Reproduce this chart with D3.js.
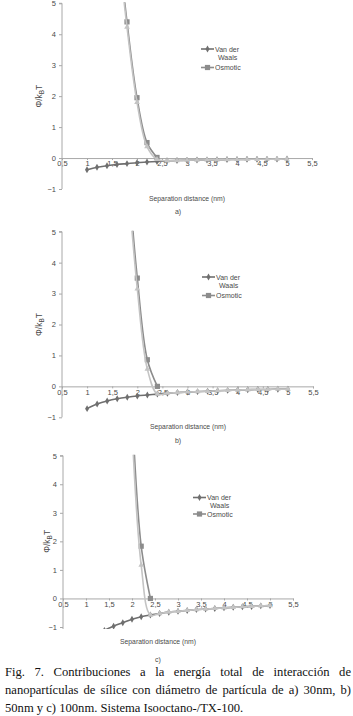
<!DOCTYPE html>
<html><head><meta charset="utf-8">
<script src="https://cdn.jsdelivr.net/npm/d3@7/dist/d3.min.js"></script>
<style>
html,body{margin:0;padding:0;background:#fff;width:353px;height:716px;overflow:hidden;}
#chart{position:absolute;left:0;top:0;}
.cap{position:absolute;left:5px;width:346px;font-family:"Liberation Serif","Times New Roman",serif;font-size:12.6px;color:#111;white-space:nowrap;text-align:justify;text-align-last:justify;line-height:18px;}
.cap.last{text-align:left;text-align-last:left;}
</style></head>
<body>
<svg id="chart" width="353" height="716"></svg>
<div class="cap" style="top:663px">Fig. 7. Contribuciones a la energía total de interacción de</div>
<div class="cap" style="top:681px">nanopartículas de sílice con diámetro de partícula de a) 30nm, b)</div>
<div class="cap last" style="top:699px">50nm y c) 100nm. Sistema Isooctano-/TX-100.</div>
<script>
// ---------- DATA ----------
const xTicks = [0.5,1,1.5,2,2.5,3,3.5,4,4.5,5,5.5];
const yTicks = [5,4,3,2,1,0,-1];
const seriesNames = ["Van der Waals","Osmotic"];
const panelLabels = ["a)","b)","c)"];

// separation distances (nm)
const dVdw = [1.0,1.2,1.4,1.6,1.8,2.0,2.2,2.4,2.6,2.8,3.0,3.2,3.4,3.6,3.8,4.0,4.2,4.4,4.6,4.8,5.0];

// panel a) 30 nm
const vdwA = [-0.38,-0.30,-0.25,-0.21,-0.18,-0.15,-0.13,-0.11,-0.09,-0.08,-0.07,-0.065,-0.06,-0.055,-0.05,-0.045,-0.042,-0.04,-0.037,-0.035,-0.033];
const dOsmA = [1.6,1.8,2.0,2.2,2.4];
const osmA = [7.4,4.4,1.95,0.5,0.02];
const dTotA = [1.6,1.8,2.0,2.2,2.4,2.6,2.8,3.0,3.2,3.4,3.6,3.8,4.0,4.2,4.4,4.6,4.8,5.0];
const totA = [7.2,4.23,1.8,0.37,-0.04,-0.09,-0.08,-0.07,-0.065,-0.06,-0.055,-0.05,-0.045,-0.042,-0.04,-0.037,-0.035,-0.033];

// panel b) 50 nm
const vdwB = [-0.72,-0.57,-0.47,-0.40,-0.35,-0.31,-0.28,-0.25,-0.22,-0.20,-0.18,-0.17,-0.16,-0.14,-0.13,-0.12,-0.11,-0.10,-0.10,-0.09,-0.09];
const dOsmB = [1.8,2.0,2.2,2.4];
const osmB = [7.3,3.5,0.86,0.0];
const dTotB = [1.8,2.0,2.2,2.4,2.6,2.8,3.0,3.2,3.4,3.6,3.8,4.0,4.2,4.4,4.6,4.8,5.0];
const totB = [6.95,3.15,0.56,-0.25,-0.22,-0.20,-0.18,-0.17,-0.16,-0.14,-0.13,-0.12,-0.11,-0.10,-0.10,-0.09,-0.09];

// panel c) 100 nm
const vdwC = [-1.8,-1.4,-1.12,-0.97,-0.85,-0.73,-0.64,-0.58,-0.53,-0.48,-0.45,-0.42,-0.39,-0.37,-0.35,-0.33,-0.31,-0.29,-0.28,-0.26,-0.25];
const dOsmC = [2.0,2.2,2.4];
const osmC = [6.7,1.83,0.0];
const dTotC = [2.0,2.2,2.4,2.6,2.8,3.0,3.2,3.4,3.6,3.8,4.0,4.2,4.4,4.6,4.8,5.0];
const totC = [5.97,1.17,-0.58,-0.53,-0.48,-0.45,-0.42,-0.39,-0.37,-0.35,-0.33,-0.31,-0.29,-0.28,-0.26,-0.25];

// ---------- LAYOUT ----------
const layouts = [
  {x0:62, x1:312, yTop:3.3, yBot:189, yClipBot:189, legX:201, legY:49, titleX:42, xTitleY:201, labY:214, xTitleX:187, labX:178, legGap:18.5},
  {x0:62, x1:313, yTop:231.7, yBot:417.3, yClipBot:417.3, legX:202, legY:277, titleX:42, xTitleY:429, labY:443, xTitleX:188, labX:178, legGap:18.5},
  {x0:63, x1:293, yTop:455.7, yBot:627, yClipBot:629, legX:193, legY:497.5, titleX:50, xTitleY:644, labY:662, xTitleX:158, labX:158, legGap:16.5}
];
const panels = [
  {vdw:vdwA, dOsm:dOsmA, osm:osmA, dTot:dTotA, tot:totA},
  {vdw:vdwB, dOsm:dOsmB, osm:osmB, dTot:dTotB, tot:totB},
  {vdw:vdwC, dOsm:dOsmC, osm:osmC, dTot:dTotC, tot:totC}
];

const colVdw = "#6f6f6f", colOsm = "#8c8c8c", colTot = "#c4c4c4";
const axisCol = "#a8a8a8", textCol = "#4a4a4a";
const font = "'Liberation Sans', Arial, sans-serif";

const svg = d3.select("#chart");

function marker(g, type, x, y, color){
  if(type==="diamond"){
    g.append("path").attr("d", d3.symbol(d3.symbolDiamond, 14)()).attr("transform",`translate(${x},${y})`).attr("fill",color);
  } else if(type==="square"){
    g.append("rect").attr("x",x-2.6).attr("y",y-2.6).attr("width",5.2).attr("height",5.2).attr("fill",color);
  } else {
    g.append("path").attr("d", d3.symbol(d3.symbolTriangle, 14)()).attr("transform",`translate(${x},${y})`).attr("fill",color);
  }
}

panels.forEach((p,i)=>{
  const L = layouts[i];
  const x = d3.scaleLinear().domain([0.5,5.5]).range([L.x0,L.x1]);
  const y = d3.scaleLinear().domain([-1,5]).range([L.yBot,L.yTop]);
  const g = svg.append("g");

  // x axis (at y = 0)
  const xAxis = d3.axisBottom(x).tickValues(xTicks).tickSize(2).tickFormat(d=>String(d).replace(".",","));
  const xg = g.append("g").attr("transform",`translate(0,${y(0)})`).call(xAxis);
  xg.select(".domain").attr("stroke",axisCol).attr("stroke-width",1);
  xg.selectAll(".tick line").attr("stroke",axisCol);
  xg.selectAll(".tick text").attr("fill",textCol).attr("font-family",font).attr("font-size",7.5).attr("dy","0.45em");

  // y axis
  const yAxis = d3.axisLeft(y).tickValues(yTicks).tickSize(3).tickFormat(d3.format("d"));
  const yg = g.append("g").attr("transform",`translate(${L.x0},0)`).call(yAxis);
  yg.select(".domain").attr("stroke",axisCol).attr("stroke-width",1).attr("d",`M-3,${L.yTop}H0V${L.yClipBot}`);
  yg.selectAll(".tick line").attr("stroke",axisCol);
  yg.selectAll(".tick text").attr("fill",textCol).attr("font-family",font).attr("font-size",7.5).attr("x",-6);

  // y title
  const yt = g.append("text").attr("transform",`translate(${L.titleX},${(L.yTop+L.yBot)/2}) rotate(-90)`)
    .attr("text-anchor","middle").attr("fill",textCol).attr("font-family",font).attr("font-size",8.5);
  yt.append("tspan").text("Φ/k");
  yt.append("tspan").attr("font-size",6.5).attr("dy",2).text("B");
  yt.append("tspan").attr("dy",-2).text("T");

  // x title & panel label
  g.append("text").attr("x",L.xTitleX).attr("y",L.xTitleY).attr("text-anchor","middle").attr("fill",textCol)
    .attr("font-family",font).attr("font-size",6.8).text("Separation distance (nm)");
  g.append("text").attr("x",L.labX).attr("y",L.labY).attr("text-anchor","middle").attr("fill",textCol)
    .attr("font-family",font).attr("font-size",7).text(panelLabels[i]);

  // clip
  const cid = "clip"+i;
  svg.append("clipPath").attr("id",cid).append("rect")
    .attr("x",L.x0).attr("y",L.yTop-1).attr("width",L.x1-L.x0).attr("height",L.yClipBot-L.yTop+1);
  const plot = g.append("g").attr("clip-path",`url(#${cid})`);

  const line = d3.line().x(d=>x(d[0])).y(d=>y(d[1])).curve(d3.curveCatmullRom.alpha(0.5));
  const sets = [
    {pts:dVdw.map((d,k)=>[d,p.vdw[k]]), col:colVdw, m:"diamond"},
    {pts:p.dOsm.map((d,k)=>[d,p.osm[k]]), col:colOsm, m:"square"},
    {pts:p.dTot.map((d,k)=>[d,p.tot[k]]), col:colTot, m:"triangle"}
  ];
  sets.forEach(s=>{
    plot.append("path").attr("d",line(s.pts)).attr("fill","none").attr("stroke",s.col).attr("stroke-width",1.6);
    s.pts.forEach(pt=>marker(plot, s.m, x(pt[0]), y(pt[1]), s.col));
  });

  // legend
  const lg = g.append("g");
  const legRows = [{name:["Van der","Waals"], col:colVdw, m:"diamond", dy:0},{name:["Osmotic"], col:colOsm, m:"square", dy:L.legGap}];
  legRows.forEach(r=>{
    const yy = L.legY + r.dy;
    lg.append("line").attr("x1",L.legX).attr("x2",L.legX+13).attr("y1",yy).attr("y2",yy).attr("stroke",r.col).attr("stroke-width",1.6);
    marker(lg, r.m, L.legX+6.5, yy, r.col);
    r.name.forEach((t,k)=>{
      lg.append("text").attr("x",L.legX+14+(k>0?3:0)).attr("y",yy+2.5+k*8).attr("fill",textCol)
        .attr("font-family",font).attr("font-size",7).text(t);
    });
  });
});
</script>
</body></html>
